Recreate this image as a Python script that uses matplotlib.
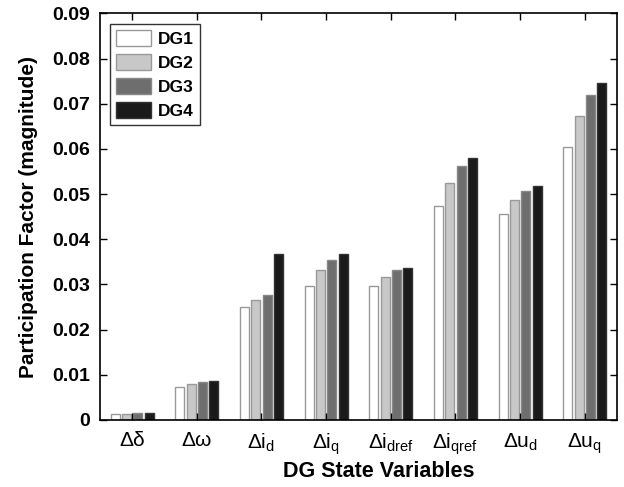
import numpy as np
import matplotlib
matplotlib.use("Agg")
import matplotlib.pyplot as plt

plt.rcParams['font.family'] = ['Liberation Sans', 'DejaVu Sans']
plt.rcParams['mathtext.fontset'] = 'custom'
plt.rcParams['mathtext.rm'] = 'Liberation Sans'

# state variables on the x axis
variables = ['Δδ', 'Δω', r'Δi$_\mathrm{d}$', r'Δi$_\mathrm{q}$',
             r'Δi$_\mathrm{dref}$', r'Δi$_\mathrm{qref}$',
             r'Δu$_\mathrm{d}$', r'Δu$_\mathrm{q}$']

# participation factors
dg1 = [0.0014, 0.0072, 0.0250, 0.0297, 0.0297, 0.0474, 0.0456, 0.0604]
dg2 = [0.0014, 0.0079, 0.0265, 0.0332, 0.0317, 0.0525, 0.0487, 0.0672]
dg3 = [0.0015, 0.0084, 0.0277, 0.0355, 0.0331, 0.0562, 0.0507, 0.0720]
dg4 = [0.0015, 0.0086, 0.0368, 0.0368, 0.0336, 0.0580, 0.0517, 0.0745]

series = [dg1, dg2, dg3, dg4]
names = ['DG1', 'DG2', 'DG3', 'DG4']
colors = ['white', '#c8c8c8', '#6e6e6e', '#1a1a1a']
edges = ['#999999', '#999999', '#888888', '#333333']

fig = plt.figure(figsize=(6.24, 4.87), dpi=100)
ax = fig.add_axes([0.16, 0.1376, 0.829, 0.835])

x = np.arange(1, len(variables) + 1)
slot = 0.175
w = 0.14
for i, (vals, nm) in enumerate(zip(series, names)):
    ax.bar(x + (i - 1.5) * slot, vals, width=w, color=colors[i],
           edgecolor=edges[i], linewidth=1.0, label=nm)

ax.set_xlim(0.5, 8.5)
ax.set_ylim(0, 0.09)
ax.set_yticks(np.arange(0, 0.0901, 0.01))
ax.set_yticklabels(['0'] + ['%.2f' % v for v in np.arange(0.01, 0.0901, 0.01)],
                   fontsize=14, fontweight='bold')
ax.set_xticks(x)
ax.set_xticklabels(variables, fontsize=15)
ax.tick_params(direction='in', top=True, right=True, length=5, width=1)
ax.tick_params(axis='x', pad=8)
ax.tick_params(axis='y', pad=7)
for sp in ax.spines.values():
    sp.set_linewidth(1.2)

ax.set_ylabel('Participation Factor (magnitude)', fontsize=15, fontweight='bold',
              labelpad=10)
ax.set_xlabel('DG State Variables', fontsize=15.5, fontweight='bold', labelpad=2)
ax.xaxis.set_label_coords(0.54, -0.1)
ax.xaxis.label.set_va('top')

leg = ax.legend(loc='upper left', prop={'weight': 'bold', 'size': 12.5},
                fancybox=False, edgecolor='black', handlelength=2.0,
                handleheight=1.07, handletextpad=0.4, borderpad=0.35,
                labelspacing=0.4, borderaxespad=0.6)
leg.get_frame().set_linewidth(1.0)

fig.savefig('out.png', dpi=100)
